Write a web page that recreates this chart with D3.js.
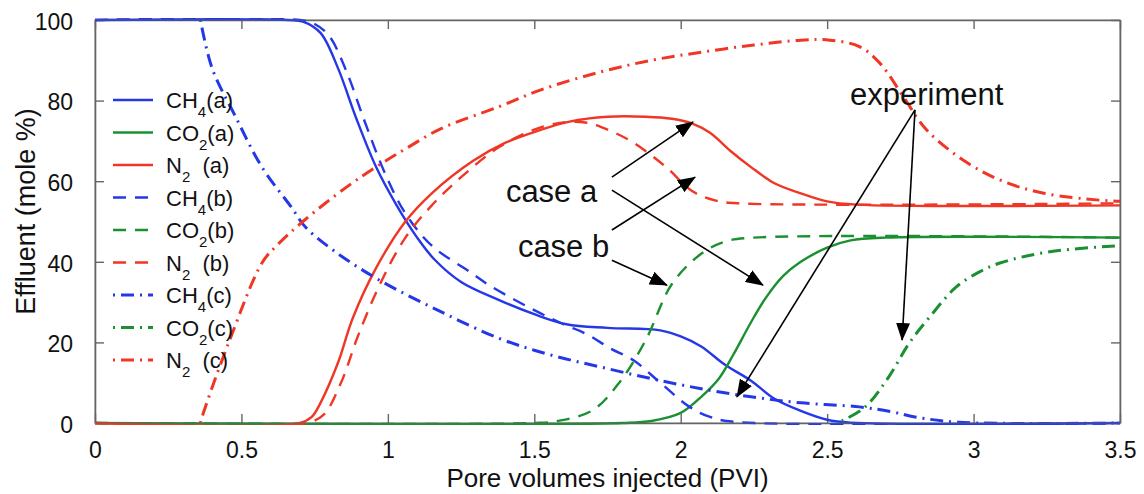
<!DOCTYPE html>
<html>
<head>
<meta charset="utf-8">
<script src="https://cdn.jsdelivr.net/npm/d3@7"></script>
<style>
    body { margin: 0; background: #fff; }
    text { font-family: "Liberation Sans", Arial, sans-serif; fill: #111; }
</style>
</head>
<body>
<div id="chart"></div>
<script>
// ---- data: [PVI, mole %] ----
const ch4a = [[0,100],[0.66,100],[0.71,99.6],[0.77,96.8],[0.83,88],[0.89,76],[0.96,63.5],[1.03,54],[1.1,46],[1.16,40.5],[1.25,35],[1.38,30.5],[1.5,27],[1.61,24.5],[1.75,23.6],[1.93,23],[2.0,21.5],[2.07,19],[2.15,14.5],[2.24,10.5],[2.32,6],[2.41,3],[2.5,0.8],[2.58,0.1],[3.5,0]];
const co2a = [[0,0],[1.8,0],[1.9,0.5],[2.0,2.5],[2.07,6.5],[2.13,11],[2.18,17],[2.24,25],[2.29,31],[2.35,36.5],[2.41,40],[2.5,43.5],[2.58,45.3],[2.7,46],[3.5,46]];
const n2a = [[0,0],[0.7,0],[0.74,1.5],[0.77,5],[0.83,15],[0.88,26],[0.96,38.5],[1.06,50],[1.15,57],[1.29,65],[1.4,69.5],[1.52,72.7],[1.62,74.8],[1.75,76],[1.88,76],[1.97,75.5],[2.04,74.3],[2.1,72],[2.17,67.5],[2.24,63.5],[2.32,59.5],[2.41,57],[2.5,55],[2.6,54.2],[3.5,54]];
const ch4b = [[0,100],[0.7,100],[0.75,99],[0.8,96],[0.86,87],[0.92,75],[0.99,62],[1.06,52],[1.15,44],[1.28,37.5],[1.35,34],[1.5,28],[1.6,24.5],[1.68,22],[1.76,18.5],[1.84,15.5],[1.93,10],[2.03,4],[2.1,1.5],[2.18,0.3],[3.5,0]];
const co2b = [[0,0],[1.5,0],[1.58,0.5],[1.7,3.2],[1.79,10],[1.88,20.5],[1.97,34.5],[2.07,42],[2.15,45],[2.25,46],[3.5,46]];
const n2b = [[0,0],[0.72,0],[0.78,2],[0.84,10],[0.9,22],[0.98,35.5],[1.06,46],[1.15,54],[1.25,61],[1.38,68.5],[1.5,72.8],[1.6,74.6],[1.68,74.5],[1.76,72.5],[1.84,69.5],[1.95,63.5],[2.04,57.5],[2.12,55.2],[2.2,54.5],[3.5,54.5]];
const ch4c = [[0.36,100],[0.40,88],[0.48,76],[0.57,63.5],[0.67,53.6],[0.72,48.5],[0.83,42],[0.97,35.5],[1.17,28],[1.38,21],[1.55,17],[1.72,14],[1.9,11],[2.07,8.5],[2.24,6.5],[2.41,5],[2.61,4],[2.72,2.8],[2.8,1.5],[2.95,0.2],[3.5,0]];
const co2c = [[2.55,0.5],[2.63,4],[2.71,11.4],[2.78,19.8],[2.85,26.3],[2.94,33.7],[3.02,37.5],[3.09,39.7],[3.26,42.5],[3.5,44]];
const n2c = [[0.36,0],[0.37,2.5],[0.46,20.6],[0.57,39.7],[0.62,44],[0.71,50],[0.86,58.6],[0.97,64],[1.06,68],[1.18,73],[1.38,78.5],[1.52,82.6],[1.72,87],[1.9,90],[2.07,92],[2.25,93.8],[2.41,95],[2.51,95],[2.61,93.4],[2.68,89.3],[2.76,81],[2.84,72.7],[2.98,64.5],[3.1,60],[3.24,57],[3.43,55.3],[3.5,55]];

const xTicks = [0, 0.5, 1, 1.5, 2, 2.5, 3, 3.5];
const yTicks = [0, 20, 40, 60, 80, 100];

// legend entries: [main, subscript, suffix]
const legendLabels = [
    ["CH", "4", "(a)"], ["CO", "2", "(a)"], ["N", "2", "  (a)"],
    ["CH", "4", "(b)"], ["CO", "2", "(b)"], ["N", "2", "  (b)"],
    ["CH", "4", "(c)"], ["CO", "2", "(c)"], ["N", "2", "  (c)"]
];

// annotations: text [x, y] and arrows [from, to] in data units
const annoText = [["case a", 1.403, 54.8], ["case b", 1.444, 41.2], ["experiment", 2.578, 78.9]];
const annoArrows = [
    [[1.765, 61.0], [2.042, 74.7]],
    [[1.765, 57.8], [2.281, 34.2]],
    [[1.765, 47.9], [2.049, 61.0]],
    [[1.765, 40.4], [1.953, 34.2]],
    [[2.8, 77.7], [2.192, 6.5]],
    [[2.8, 77.7], [2.756, 20.6]]
];

// ---- layout ----
const size = {width: 1144, height: 494};
const margin = {top: 20, right: 24, bottom: 71, left: 95};
const width = size.width - margin.left - margin.right;
const height = size.height - margin.top - margin.bottom;

const blue = "#2438e8", green = "#1a9030", red = "#f03624";
const solid = null, dashed = "13,9", dashdot = "2,6,13,6";

const series = [
    {data: ch4a, color: blue, dash: solid},
    {data: co2a, color: green, dash: solid},
    {data: n2a, color: red, dash: solid},
    {data: ch4b, color: blue, dash: dashed},
    {data: co2b, color: green, dash: dashed},
    {data: n2b, color: red, dash: dashed},
    {data: ch4c, color: blue, dash: dashdot},
    {data: co2c, color: green, dash: dashdot},
    {data: n2c, color: red, dash: dashdot}
];

const svg = d3.select("#chart").append("svg")
    .attr("width", size.width)
    .attr("height", size.height);

const g = svg.append("g")
    .attr("transform", "translate(" + margin.left + "," + margin.top + ")");

const xScale = d3.scaleLinear().domain([0, 3.5]).range([0, width]);
const yScale = d3.scaleLinear().domain([0, 100]).range([height, 0]);

svg.append("defs").append("clipPath").attr("id", "plotClip")
    .append("rect").attr("x", -2).attr("y", -2).attr("width", width + 4).attr("height", height + 4);

svg.select("defs").append("marker")
    .attr("id", "arrowHead")
    .attr("markerUnits", "userSpaceOnUse")
    .attr("viewBox", "0 0 18 14")
    .attr("markerWidth", 18)
    .attr("markerHeight", 14)
    .attr("refX", 17)
    .attr("refY", 7)
    .attr("orient", "auto")
    .append("path")
    .attr("d", "M0,0 L18,7 L0,14 Z")
    .attr("fill", "#000");

// axes with inward ticks (matlab style)
const tickLen = 9;
const axisColor = "#666";

g.append("g").attr("class", "x-axis")
    .attr("transform", "translate(0," + height + ")")
    .call(d3.axisBottom(xScale).tickValues(xTicks).tickFormat(d3.format("")).tickSizeInner(-tickLen).tickSizeOuter(0).tickPadding(19));
g.append("g").attr("class", "x-axis-top")
    .call(d3.axisTop(xScale).tickValues(xTicks).tickFormat("").tickSizeInner(-tickLen).tickSizeOuter(0));
g.append("g").attr("class", "y-axis")
    .call(d3.axisLeft(yScale).tickValues(yTicks).tickSizeInner(-tickLen).tickSizeOuter(0).tickPadding(22));
g.append("g").attr("class", "y-axis-right")
    .attr("transform", "translate(" + width + ",0)")
    .call(d3.axisRight(yScale).tickValues(yTicks).tickFormat("").tickSizeInner(-tickLen).tickSizeOuter(0));

g.selectAll(".domain").attr("stroke", axisColor).attr("stroke-width", 1.6);
g.selectAll(".tick line").attr("stroke", axisColor).attr("stroke-width", 1.4);
g.selectAll(".tick text")
    .style("font-family", "'Liberation Sans', Arial, sans-serif")
    .style("font-size", "23px")
    .attr("fill", "#111");
g.select(".y-axis").selectAll(".tick text").attr("dy", "0.4em");

// axis titles
g.append("text")
    .attr("x", width / 2)
    .attr("y", height + 64)
    .style("text-anchor", "middle")
    .style("font-size", "26px")
    .text("Pore volumes injected (PVI)");
g.append("text")
    .attr("transform", "rotate(-90)")
    .attr("x", -height / 2 + 10)
    .attr("y", -60)
    .style("text-anchor", "middle")
    .style("font-size", "27px")
    .text("Effluent (mole %)");

// curves
const line = d3.line()
    .x((d) => xScale(d[0]))
    .y((d) => yScale(d[1]))
    .curve(d3.curveCatmullRom.alpha(0.5));

g.append("g").attr("clip-path", "url(#plotClip)")
    .selectAll(".curve")
    .data(series)
    .join("path")
    .attr("class", "curve")
    .attr("d", (s) => line(s.data))
    .attr("fill", "none")
    .attr("stroke", (s) => s.color)
    .attr("stroke-width", (s, i) => i >= 6 ? 3 : 2.4)
    .attr("stroke-dasharray", (s) => s.dash);

// redraw the frame so the curves at 0 / 100 don't hide it
g.append("rect")
    .attr("width", width).attr("height", height)
    .attr("fill", "none")
    .attr("stroke", axisColor).attr("stroke-width", 1.2).attr("stroke-opacity", 0.6);

// legend
const legend = g.append("g").attr("class", "legend").attr("transform", "translate(18,80)");
const rowH = 32.5;
const legendRows = legend.selectAll(".legendRow")
    .data(series)
    .join("g")
    .attr("class", "legendRow")
    .attr("transform", (s, i) => "translate(0," + i * rowH + ")");

legendRows.append("line")
    .attr("x1", 0).attr("x2", 40)
    .attr("stroke", (s) => s.color)
    .attr("stroke-width", (s, i) => i >= 6 ? 3 : 2.4)
    .attr("stroke-dasharray", (s) => s.dash);

const legendText = legendRows.append("text")
    .attr("x", 53).attr("y", 8)
    .style("font-size", "22px")
    .style("white-space", "pre")
    .attr("fill", "#222");
legendText.append("tspan").text((s, i) => legendLabels[i][0]);
legendText.append("tspan").attr("dy", 9).style("font-size", "15px").text((s, i) => legendLabels[i][1]);
legendText.append("tspan").attr("dy", -9).text((s, i) => legendLabels[i][2]);

// annotations
g.selectAll(".annoArrow")
    .data(annoArrows)
    .join("line")
    .attr("class", "annoArrow")
    .attr("x1", (a) => xScale(a[0][0])).attr("y1", (a) => yScale(a[0][1]))
    .attr("x2", (a) => xScale(a[1][0])).attr("y2", (a) => yScale(a[1][1]))
    .attr("stroke", "#000")
    .attr("stroke-width", 1.6)
    .attr("marker-end", "url(#arrowHead)");

g.selectAll(".annoText")
    .data(annoText)
    .join("text")
    .attr("class", "annoText")
    .attr("x", (a) => xScale(a[1]))
    .attr("y", (a) => yScale(a[2]))
    .style("font-size", "31px")
    .attr("fill", "#000")
    .text((a) => a[0]);
</script>
</body>
</html>
